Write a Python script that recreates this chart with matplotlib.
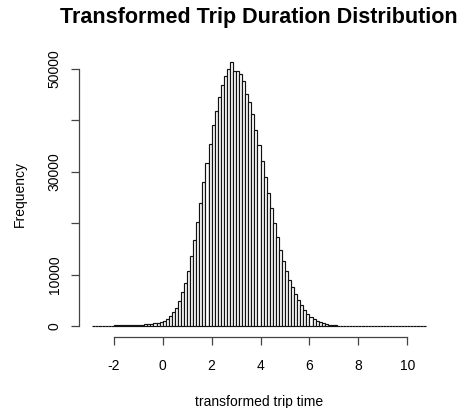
import numpy as np
import matplotlib
matplotlib.use("Agg")
import matplotlib.pyplot as plt

plt.rcParams['font.family'] = ['Liberation Sans', 'DejaVu Sans']

# histogram bins (width 0.125) and counts per bin
bin_start = -2.875
bin_width = 0.125
counts = [
    50, 90, 110, 120, 140, 150, 170, 180, 200, 210,
    230, 250, 270, 290, 320, 340, 370, 410, 450, 520,
    600, 700, 850, 1100, 1500, 2000, 2700, 3600, 5000, 6700,
    8500, 10800, 13600, 16800, 20300, 24000, 28000, 31800, 35500, 39000,
    41800, 44500, 46800, 48700, 50000, 51400, 49600, 49500, 49000, 47600,
    45200, 43500, 41300, 38200, 35300, 32200, 29000, 25900, 22900, 20000,
    17300, 14900, 12700, 10800, 9100, 7600, 6300, 5100, 4100, 3200,
    2500, 1900, 1450, 1100, 800, 600, 380, 300, 230, 180,
    140, 110, 90, 75, 65, 58, 55, 52, 50, 48,
    46, 44, 42, 40, 38, 36, 34, 33, 32, 31,
    30, 29, 28, 27, 26, 25, 24, 22, 20,
]
edges = bin_start + bin_width * np.arange(len(counts) + 1)

x_ticks = [-2, 0, 2, 4, 6, 8, 10]
y_ticks = [0, 10000, 20000, 30000, 40000, 50000]
y_tick_labels = ['0', '10000', '', '30000', '', '50000']

fig = plt.figure(figsize=(4.68, 4.08), dpi=100)
ax = fig.add_axes([79 / 468, 71 / 408, 360 / 468, 286 / 408])

ax.bar(edges[:-1], counts, width=bin_width, align='edge',
       color='white', edgecolor='#111111', linewidth=0.85)

span = edges[-1] - edges[0]
ax.set_xlim(edges[0] - 0.04 * span, edges[-1] + 0.04 * span)
top = max(counts)
ax.set_ylim(-0.04 * top, 1.04 * top)

for side in ['top', 'right']:
    ax.spines[side].set_visible(False)
ax.spines['left'].set_bounds(0, 50000)
ax.spines['bottom'].set_bounds(-2, 10)
for side in ['left', 'bottom']:
    ax.spines[side].set_color('#444444')
    ax.spines[side].set_linewidth(0.9)

ax.set_xticks(x_ticks)
ax.set_xticklabels([str(t) for t in x_ticks])
ax.set_yticks(y_ticks)
ax.set_yticklabels(y_tick_labels, rotation=90, va='center')
ax.tick_params(axis='both', length=5.5, width=0.9, color='#444444', labelsize=10)
ax.tick_params(axis='x', pad=10)
ax.tick_params(axis='y', pad=7)

ax.set_xlabel('transformed trip time', fontsize=10, labelpad=16)
ax.set_ylabel('Frequency', fontsize=10, labelpad=15)
ax.set_title('Transformed Trip Duration Distribution', fontsize=15.5,
             fontweight='bold', pad=20)

fig.savefig('out.png', dpi=100)
